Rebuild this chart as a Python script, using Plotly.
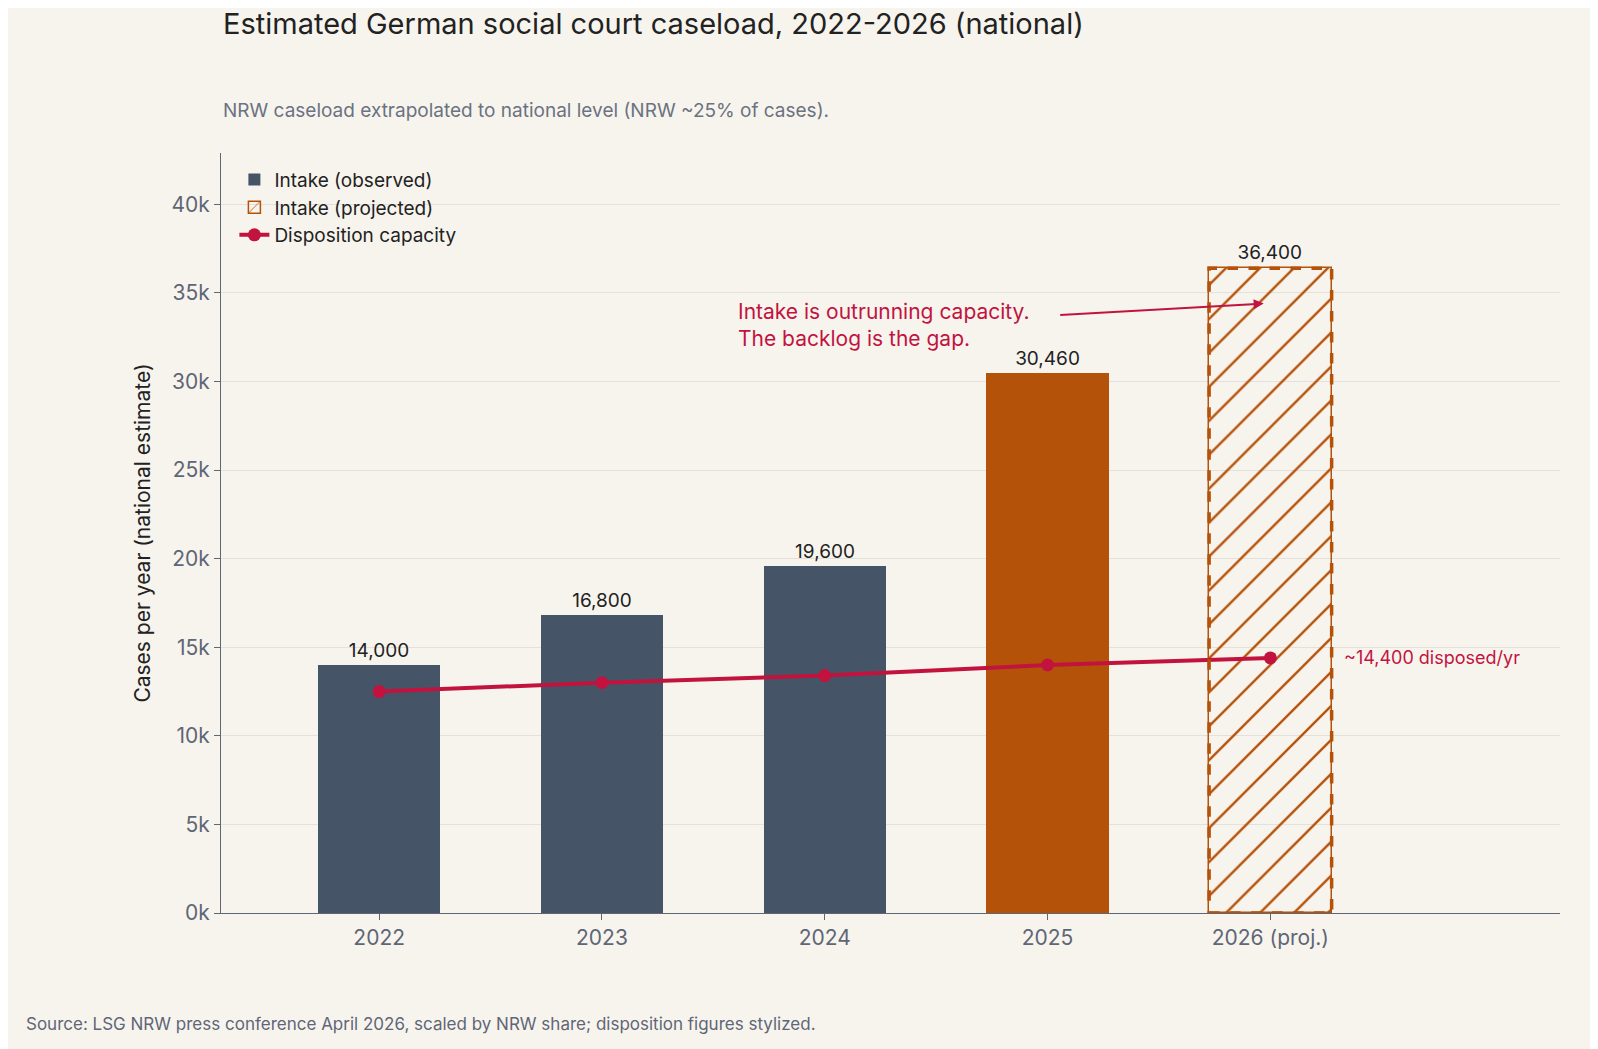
import plotly.graph_objects as go

years = ["2022", "2023", "2024", "2025", "2026 (proj.)"]
intake = [14000, 16800, 19600, 30460, 36400]
capacity = [12500, 13000, 13400, 14000, 14400]
bar_colors = ["#465467", "#465467", "#465467", "#b5520a"]

BG = "#f7f4ee"
ORANGE = "#b5520a"
RED = "#c2133f"
GRAY = "#5f6676"
W = 0.55

fig = go.Figure()

fig.add_trace(go.Bar(
    x=years[:4], y=intake[:4], width=W, name="Intake (observed)",
    marker=dict(color=bar_colors, line_width=0),
    text=[f"{v:,}" for v in intake[:4]], textposition="outside",
    textfont=dict(size=19, color="#222"), cliponaxis=False,
))
fig.add_trace(go.Bar(
    x=years[4:], y=intake[4:], width=W, name="Intake (projected)",
    marker=dict(color="rgba(0,0,0,0)", line=dict(color=ORANGE, width=1.5),
                pattern=dict(shape="/", fgcolor=ORANGE, bgcolor="rgba(0,0,0,0)",
                             size=24, solidity=0.1, fgopacity=1)),
    text=[f"{v:,}" for v in intake[4:]], textposition="outside",
    textfont=dict(size=19, color="#222"), cliponaxis=False,
))
fig.add_trace(go.Scatter(
    x=years, y=capacity, mode="lines+markers", name="Disposition capacity",
    line=dict(color=RED, width=4), marker=dict(size=13, color=RED),
))

# dashed outline of projected bar
i = len(years) - 1
fig.add_shape(type="rect", xref="x", yref="y", x0=i - W / 2, x1=i + W / 2,
              y0=0, y1=intake[-1], line=dict(color=ORANGE, width=3.5, dash="dash"))

fig.add_annotation(x=1.6, y=33200, text="Intake is outrunning capacity.<br>The backlog is the gap.",
                   showarrow=False, xanchor="left", yanchor="middle", align="left",
                   font=dict(size=21, color=RED))
fig.add_annotation(x=i - 0.03, y=34400, ax=3.05, ay=33750, axref="x", ayref="y", text="",
                   showarrow=True, arrowhead=2, arrowsize=1, arrowwidth=2, arrowcolor=RED)
fig.add_annotation(x=i + 0.32, y=capacity[-1], text=f"~{capacity[-1]:,} disposed/yr",
                   showarrow=False, xanchor="left", font=dict(size=18, color=RED))

fig.add_annotation(xref="paper", yref="paper", x=0, y=1 + 130 / 760, xanchor="left", yanchor="middle",
                   showarrow=False, text="Estimated German social court caseload, 2022-2026 (national)",
                   font=dict(size=29, color="#222"))
fig.add_annotation(xref="paper", yref="paper", x=0, y=1 + 42 / 760, xanchor="left", yanchor="middle",
                   showarrow=False, text="NRW caseload extrapolated to national level (NRW ~25% of cases).",
                   font=dict(size=19, color="#6b7280"))

fig.update_layout(
    width=1598, height=1049, paper_bgcolor=BG, plot_bgcolor=BG,
    font=dict(family="Inter", color=GRAY),
    margin=dict(l=213, r=46, t=145, b=144),
    barmode="overlay", bargap=0,
    legend=dict(x=0.01, y=0.99, xanchor="left", yanchor="top", bgcolor="rgba(0,0,0,0)",
                font=dict(size=19, color="#222"), tracegroupgap=4),
    showlegend=True,
)
fig.update_xaxes(type="category", range=[-0.71, 5.3], showline=True, linecolor=GRAY,
                 ticks="outside", ticklen=6, tickcolor=GRAY, tickfont=dict(size=21, color=GRAY),
                 showgrid=False)
fig.update_yaxes(range=[0, 42900], tickvals=[0, 5000, 10000, 15000, 20000, 25000, 30000, 35000, 40000],
                 ticktext=["0k", "5k", "10k", "15k", "20k", "25k", "30k", "35k", "40k"],
                 showline=True, linecolor=GRAY, ticks="outside", ticklen=6, tickcolor=GRAY,
                 gridcolor="rgba(120,120,120,0.15)", tickfont=dict(size=21, color=GRAY),
                 zeroline=False,
                 title=dict(text="Cases per year (national estimate)", font=dict(size=21, color="#222")))
fig.add_annotation(xref="paper", yref="paper", x=-197 / 1339, y=-0.13, xanchor="left",
                   yanchor="top", showarrow=False,
                   text="Source: LSG NRW press conference April 2026, scaled by NRW share; disposition figures stylized.",
                   font=dict(size=17, color=GRAY))

fig.write_html("out.html")
